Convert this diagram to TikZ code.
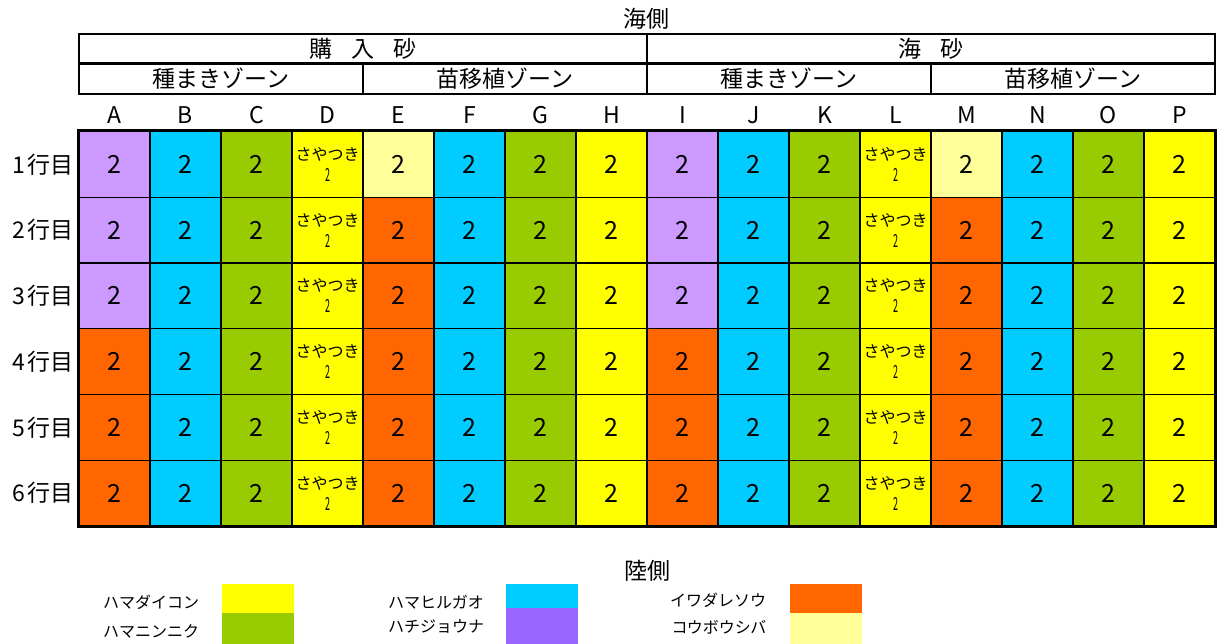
\documentclass[tikz,border=0pt]{standalone}
\usepackage{fontspec}
\setmainfont{Noto Sans CJK JP}
\definecolor{pu}{HTML}{CC99FF}
\definecolor{cy}{HTML}{00CCFF}
\definecolor{gr}{HTML}{99CC00}
\definecolor{ye}{HTML}{FFFF00}
\definecolor{ly}{HTML}{FFFF99}
\definecolor{or}{HTML}{FF6600}
\definecolor{lp}{HTML}{9966FF}
\begin{document}
\begin{tikzpicture}[x=1pt,y=-1pt,
  cell/.style={draw,line width=1.3pt,minimum width=71pt,minimum height=65.75pt,inner sep=0pt,font=\fontsize{25}{25}\selectfont},
  saya/.style={cell,align=center,font=\fontsize{16}{21}\selectfont},
  hdr/.style={draw,line width=2.5pt,inner sep=0pt,font=\fontsize{23}{23}\selectfont},
  collab/.style={font=\fontsize{23}{23}\selectfont,inner sep=0pt},
  rowlab/.style={font=\fontsize{23}{23}\selectfont,inner sep=0pt,anchor=east},
  side/.style={font=\fontsize{23}{23}\selectfont,inner sep=0pt},
  legtxt/.style={font=\fontsize{16}{16}\selectfont,inner sep=0pt},
  legbox/.style={inner sep=0pt,minimum width=72pt}]
\useasboundingbox (0,0) rectangle (1218,644);
% sides
\node[side] (sea) at (646,19) {海側};
\node[side] (land) at (647,571) {陸側};
% header
\node[hdr,minimum width=568pt,minimum height=29.5pt] (h1) at (363,48.75) {購\hspace{19pt}入\hspace{19pt}砂};
\node[hdr,minimum width=568pt,minimum height=29.5pt] (h2) at (931,48.75) {海\hspace{19pt}砂};
\node[hdr,minimum width=284pt,minimum height=30.5pt] (z1) at (221,79) {種まきゾーン};
\node[hdr,minimum width=284pt,minimum height=30.5pt] (z2) at (505,79) {苗移植ゾーン};
\node[hdr,minimum width=284pt,minimum height=30.5pt] (z3) at (789,79) {種まきゾーン};
\node[hdr,minimum width=284pt,minimum height=30.5pt] (z4) at (1073,79) {苗移植ゾーン};
% column letters
\foreach \L [count=\k from 0] in {A,B,C,D,E,F,G,H,I,J,K,L,M,N,O,P}
  \node[collab] (col-\k) at ({79+(\k+0.5)*71},115) {\L};
% row labels
\foreach \r in {1,...,6}
  \node[rowlab] (row-\r) at (74,{131.5+(\r-0.5)*65.75}) {\r\hspace{3pt}行目};
% cells
\foreach \i/\s/\ca/\cb/\cc/\cd/\ce/\cf in {
  0/0/pu/pu/pu/or/or/or, 1/0/cy/cy/cy/cy/cy/cy, 2/0/gr/gr/gr/gr/gr/gr, 3/1/ye/ye/ye/ye/ye/ye,
  4/0/ly/or/or/or/or/or, 5/0/cy/cy/cy/cy/cy/cy, 6/0/gr/gr/gr/gr/gr/gr, 7/0/ye/ye/ye/ye/ye/ye,
  8/0/pu/pu/pu/or/or/or, 9/0/cy/cy/cy/cy/cy/cy, 10/0/gr/gr/gr/gr/gr/gr, 11/1/ye/ye/ye/ye/ye/ye,
  12/0/ly/or/or/or/or/or, 13/0/cy/cy/cy/cy/cy/cy, 14/0/gr/gr/gr/gr/gr/gr, 15/0/ye/ye/ye/ye/ye/ye}{
  \foreach \r/\cl in {1/\ca,2/\cb,3/\cc,4/\cd,5/\ce,6/\cf}{
    \ifnum\s=1
      \node[saya,fill=\cl] (c-\i-\r) at ({79+(\i+0.5)*71},{131.5+(\r-0.5)*65.75}) {さやつき\\\scalebox{0.5}[1]{\fontsize{18}{18}\selectfont 2}};
    \else
      \node[cell,fill=\cl] (c-\i-\r) at ({79+(\i+0.5)*71},{131.5+(\r-0.5)*65.75}) {2};
    \fi
  }
}
\draw[line width=2.7pt] (c-0-1.north west) rectangle (c-15-6.south east);
% legend
\node[legbox,fill=ye,minimum height=29pt] (k1) at (257.5,598.5) {};
\node[legbox,fill=gr,minimum height=31pt] (k2) at (257.5,628.5) {};
\node[legbox,fill=cy,minimum height=24pt] (k3) at (542,596) {};
\node[legbox,fill=lp,minimum height=36pt] (k4) at (542,626) {};
\node[legbox,fill=or,minimum height=29pt] (k5) at (825.5,598.5) {};
\node[legbox,fill=ly,minimum height=31pt] (k6) at (825.5,628.5) {};
\node[legtxt] (t1) at (151,602) {ハマダイコン};
\node[legtxt] (t2) at (151,631) {ハマニンニク};
\node[legtxt] (t3) at (436,602) {ハマヒルガオ};
\node[legtxt] (t4) at (436,627) {ハチジョウナ};
\node[legtxt] (t5) at (718,600) {イワダレソウ};
\node[legtxt] (t6) at (719,627) {コウボウシバ};
\end{tikzpicture}
\end{document}
